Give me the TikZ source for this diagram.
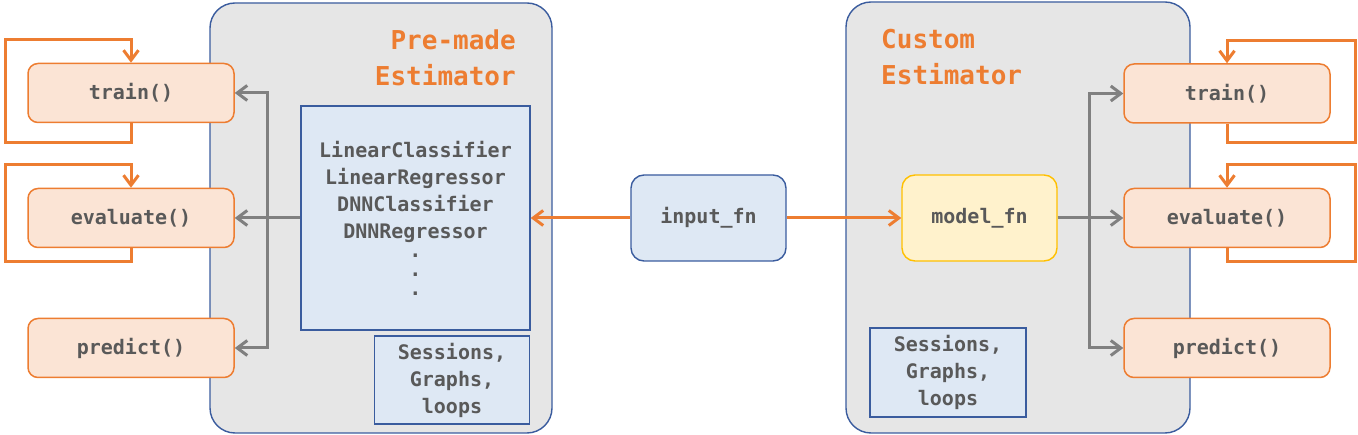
\documentclass[tikz,border=0pt]{standalone}
\usepackage{fontspec}
\setmonofont{DejaVu Sans Mono}
\usetikzlibrary{arrows.meta}
\definecolor{gfill}{HTML}{E6E6E6}
\definecolor{bdblue}{HTML}{3A5C9E}
\definecolor{blfill}{HTML}{DEE8F4}
\definecolor{orfill}{HTML}{FBE4D5}
\definecolor{orline}{HTML}{ED7D31}
\definecolor{yfill}{HTML}{FFF2CC}
\definecolor{yline}{HTML}{FFC000}
\definecolor{agray}{HTML}{808080}
\definecolor{tgray}{HTML}{595959}
\tikzset{
  lbl/.style={font=\ttfamily\bfseries\fontsize{20}{27}\selectfont, text=tgray},
  estbox/.style={draw=bdblue, fill=gfill, line width=1.4pt, rounded corners=25pt},
  method/.style={lbl, draw=orline, fill=orfill, line width=1.5pt, rounded corners=10pt,
    minimum width=206pt, minimum height=59pt, inner sep=0pt},
  bluebox/.style={lbl, draw=bdblue, fill=blfill, line width=1.4pt, align=center, inner sep=0pt},
  ttl/.style={font=\ttfamily\bfseries\fontsize{26}{35}\selectfont, text=orline, inner sep=0pt},
  garrow/.style={draw=agray, line width=3pt, -{Straight Barb[length=10pt,width=15pt,line width=3pt]}},
  gline/.style={draw=agray, line width=3pt},
  oarrow/.style={draw=orline, line width=3pt, -{Straight Barb[length=10pt,width=15pt,line width=3pt]}},
}
\begin{document}
\begin{tikzpicture}[x=1pt,y=-1pt]
\useasboundingbox (0,0) rectangle (1358,435);
% estimator containers
\node[estbox, minimum width=342pt, minimum height=430pt] (pre) at (381,218) {};
\node[estbox, minimum width=344pt, minimum height=431pt] (cus) at (1018,217.5) {};
% titles
\node[ttl, anchor=base east] (pt1) at (516,50) {Pre-made};
\node[ttl, anchor=base east] (pt2) at (516,86) {Estimator};
\node[ttl, anchor=base west] (ct1) at (881,49) {Custom};
\node[ttl, anchor=base west] (ct2) at (881,85) {Estimator};
% left methods
\node[method] (ltrain) at (131,93) {train()};
\node[method] (leval) at (131,218) {evaluate()};
\node[method] (lpred) at (131,348) {predict()};
% right methods
\node[method] (rtrain) at (1227,93.5) {train()};
\node[method] (reval) at (1227,218) {evaluate()};
\node[method] (rpred) at (1227,348) {predict()};
% pre-made content
\node[bluebox, minimum width=229pt, minimum height=224pt] (premade) at (415.5,218)
  {LinearClassifier\\LinearRegressor\\DNNClassifier\\DNNRegressor\\[-8pt].\\[-8pt].\\[-8pt].};
\node[bluebox, minimum width=155pt, minimum height=88pt] (lsess) at (452,380)
  {Sessions,\\Graphs,\\loops};
\node[bluebox, minimum width=156pt, minimum height=89pt] (rsess) at (948,372.5)
  {Sessions,\\Graphs,\\loops};
% input and model
\node[lbl, draw=bdblue, fill=blfill, line width=1.4pt, rounded corners=13pt,
  minimum width=155pt, minimum height=86pt] (input) at (708.5,218) {input\_fn};
\node[lbl, draw=yline, fill=yfill, line width=1.4pt, rounded corners=13pt,
  minimum width=155pt, minimum height=86pt] (model) at (979.5,218) {model\_fn};
% orange arrows
\draw[oarrow] (input.west) -- (premade.east);
\draw[oarrow] (input.east) -- (model.west);
% left gray arrows
\coordinate (lj) at (267,218);
\draw[gline] (premade.west) -- (lj);
\draw[garrow] (lj) -- (leval.east);
\draw[garrow] (lj) |- (ltrain.east);
\draw[garrow] (lj) |- (lpred.east);
% right gray arrows
\coordinate (rj) at (1089,218);
\draw[gline] (model.east) -- (rj);
\draw[garrow] (rj) -- (reval.west);
\draw[garrow] (rj) |- (rtrain.west);
\draw[garrow] (rj) |- (rpred.west);
% loops
\coordinate (l1b) at (5,143); \coordinate (l1t) at (5,40);
\coordinate (l2b) at (5,262); \coordinate (l2t) at (5,165);
\coordinate (r1b) at (1355,143); \coordinate (r1t) at (1355,41);
\coordinate (r2b) at (1355,262); \coordinate (r2t) at (1355,165);
\draw[oarrow, line join=miter] (ltrain.south) |- (l1b) -- (l1t) -| (ltrain.north);
\draw[oarrow, line join=miter] (leval.south) |- (l2b) -- (l2t) -| (leval.north);
\draw[oarrow, line join=miter] (rtrain.south) |- (r1b) -- (r1t) -| (rtrain.north);
\draw[oarrow, line join=miter] (reval.south) |- (r2b) -- (r2t) -| (reval.north);
\end{tikzpicture}
\end{document}
